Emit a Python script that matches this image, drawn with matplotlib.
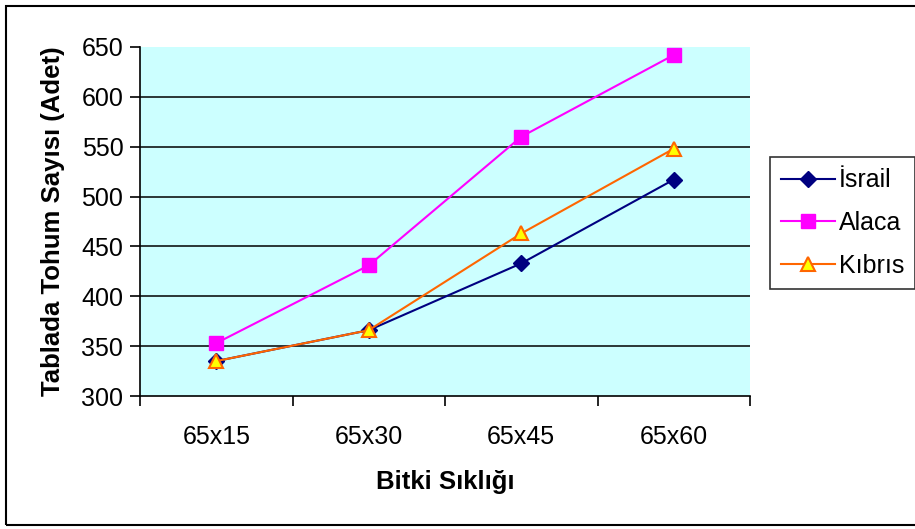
'''
Bitki sıklığına göre tablada tohum sayısı
'''

from matplotlib import pyplot as plt
from matplotlib.patches import Rectangle

categories = ['65x15', '65x30', '65x45', '65x60']
israil = [335, 366, 433, 517]
alaca = [353, 431, 560, 642]
kibris = [335, 366, 463, 548]
y_ticks = [300, 350, 400, 450, 500, 550, 600, 650]

def create_chart():
    plt.rcParams['font.family'] = ['Liberation Sans', 'DejaVu Sans']
    fig = plt.figure(figsize=(9.15, 5.29), dpi=100)
    ax = fig.add_axes([140/915, 1-396/529, 610/915, 349/529])
    ax.set_facecolor('#CCFFFF')

    x = [i + 0.5 for i in range(len(categories))]
    ax.plot(x, israil, color='#000080', lw=1.5, marker='D', ms=8,
            mfc='#000080', mec='#000080', label='İsrail', zorder=3)
    ax.plot(x, alaca, color='#FF00FF', lw=1.5, marker='s', ms=10,
            mfc='#FF00FF', mec='#FF00FF', label='Alaca', zorder=3)
    ax.plot(x, kibris, color='#FF6600', lw=1.5, marker='^', ms=10,
            mfc='#FFFF00', mec='#FF6600', mew=1.5, label='Kıbrıs', zorder=4)

    ax.set_xlim(0, len(categories))
    ax.set_ylim(300, 650)
    ax.set_yticks(y_ticks)
    ax.set_xticks(range(len(categories) + 1))
    ax.set_xticklabels([])
    ax.set_xticks(x, minor=True)
    ax.set_xticklabels(categories, minor=True)
    ax.tick_params(axis='x', which='minor', length=0, pad=21, labelsize=18)
    ax.tick_params(axis='x', which='major', length=7, width=1.2, direction='out')
    ax.tick_params(axis='y', length=7, width=1.2, direction='out', labelsize=18, pad=5)

    for v in y_ticks[1:-1]:
        ax.axhline(v, color='black', lw=1.1, zorder=1)
    for s in ['top', 'right']:
        ax.spines[s].set_visible(False)
    for s in ['left', 'bottom']:
        ax.spines[s].set_linewidth(1.2)

    ax.set_xlabel('Bitki Sıklığı', fontsize=18.5, fontweight='bold', labelpad=15)
    ax.set_ylabel('Tablada Tohum Sayısı (Adet)', fontsize=18.5, fontweight='bold', labelpad=12)

    leg = ax.legend(loc='upper left', bbox_to_anchor=(770/915, 1-157/529),
                    bbox_transform=fig.transFigure, fontsize=18, frameon=True,
                    fancybox=False, edgecolor='black', borderaxespad=0,
                    handlelength=2.15, labelspacing=0.75, borderpad=0.45,
                    handletextpad=0.15)
    leg.get_frame().set_linewidth(1.2)

    # grafik çerçevesi
    fig.patches.append(Rectangle((6/915, 1-525/529), 1.2, 519/529,
                                 transform=fig.transFigure, fill=False,
                                 edgecolor='black', lw=1.5))
    fig.savefig('out.png', dpi=100)

if __name__ == '__main__':
    create_chart()
